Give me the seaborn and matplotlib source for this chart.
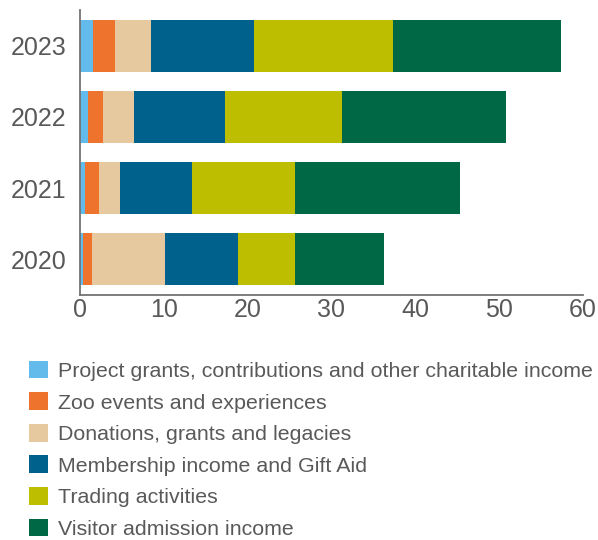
import numpy as np
import pandas as pd
import seaborn as sns
import matplotlib.pyplot as plt
from matplotlib.patches import Patch

# income by year (GBP m)
years = ['2023', '2022', '2021', '2020']
project_grants = [1.6, 0.9, 0.6, 0.3]
zoo_events = [2.6, 1.9, 1.7, 1.1]
donations = [4.3, 3.7, 2.5, 8.7]
membership = [12.3, 10.8, 8.6, 8.7]
trading = [16.5, 14.0, 12.2, 6.8]
admission = [20.1, 19.5, 19.7, 10.7]

labels = ['Project grants, contributions and other charitable income',
          'Zoo events and experiences',
          'Donations, grants and legacies',
          'Membership income and Gift Aid',
          'Trading activities',
          'Visitor admission income']
colors = ['#62bbea', '#ee742d', '#e6c99f', '#00628c', '#bdbe00', '#006845']

series = [project_grants, zoo_events, donations, membership, trading, admission]
df = pd.DataFrame(dict(zip(labels, series)), index=years)
cum = df.cumsum(axis=1)

sns.set_style('white')
plt.rcParams['font.family'] = ['Liberation Sans', 'DejaVu Sans']
text_col = '#595959'

fig = plt.figure(figsize=(5.98, 5.4), dpi=100)
ax = fig.add_axes([0.1338, 0.4537, 0.841, 0.5278])

# draw cumulative totals from largest to smallest so they stack
for lab, col in reversed(list(zip(labels, colors))):
    sns.barplot(x=cum[lab].values, y=years, orient='h', color=col,
                width=0.73, saturation=1, order=years, ax=ax, linewidth=0)

ax.set_xlim(0, 60)
ax.set_ylim(3.5, -0.5)
ax.set_xticks(range(0, 61, 10))
ax.set_xlabel('')
ax.set_ylabel('')
sns.despine(ax=ax)
for s in ['left', 'bottom']:
    ax.spines[s].set_color('#737373')
    ax.spines[s].set_linewidth(1.3)
ax.tick_params(axis='x', direction='in', length=5.5, width=1.3, color='#737373',
               labelsize=18, labelcolor=text_col, pad=2)
ax.tick_params(axis='y', length=0, labelsize=18, labelcolor=text_col, pad=10)

handles = [Patch(facecolor=c, edgecolor='none') for c in colors]
fig.legend(handles, labels, loc='upper left', bbox_to_anchor=(0.048, 0.332),
           frameon=False, fontsize=15.4, labelcolor=text_col,
           handlelength=0.9, handleheight=0.9, handletextpad=0.45,
           labelspacing=0.53, borderaxespad=0, borderpad=0)

fig.savefig('out.png', dpi=100)
